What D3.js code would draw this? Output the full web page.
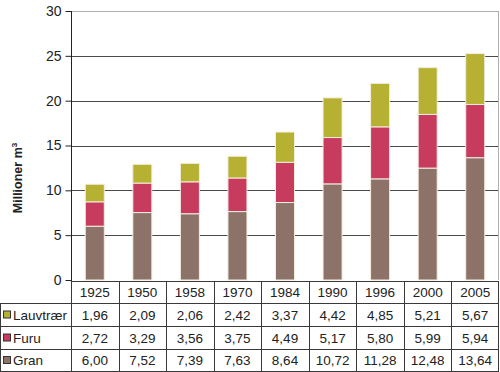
<!DOCTYPE html>
<html>
<head>
<meta charset="utf-8">
<script src="https://cdn.jsdelivr.net/npm/d3@7"></script>
<style>
  body { margin: 0; background: #fff; }
  text { font-family: "Liberation Sans", Arial, sans-serif; }
</style>
</head>
<body>
<div id="chart"></div>
<script>
// data
var years = ["1925", "1950", "1958", "1970", "1984", "1990", "1996", "2000", "2005"];
var gran = [6.00, 7.52, 7.39, 7.63, 8.64, 10.72, 11.28, 12.48, 13.64];
var furu = [2.72, 3.29, 3.56, 3.75, 4.49, 5.17, 5.80, 5.99, 5.94];
var lauvtraer = [1.96, 2.09, 2.06, 2.42, 3.37, 4.42, 4.85, 5.21, 5.67];
var seriesNames = ["Gran", "Furu", "Lauvtrær"];
var yTicks = [0, 5, 10, 15, 20, 25, 30];

var colors = {"Gran": "#8c7268", "Furu": "#c73b5e", "Lauvtrær": "#b6b033"};

var width = 500, height = 372;
var plotLeft = 71, plotRight = 499, plotTop = 11, plotBase = 280;

var svg = d3.select("#chart").append("svg")
  .attr("width", width).attr("height", height);

var x = d3.scaleBand()
  .domain(years)
  .range([plotLeft, plotRight])
  .paddingInner(0.6)
  .paddingOuter(0.3);

var y = d3.scaleLinear()
  .domain([0, 30])
  .range([plotBase, plotTop]);

// gridlines
svg.selectAll(".grid")
  .data(yTicks.filter(function(d) { return d > 0; }))
  .enter().append("line")
    .attr("x1", plotLeft).attr("x2", plotRight)
    .attr("y1", function(d) { return Math.round(y(d)) + 0.5; })
    .attr("y2", function(d) { return Math.round(y(d)) + 0.5; })
    .style("stroke", function(d) { return d == 30 ? "#b0b0b0" : "#4a4a4a"; })
    .style("stroke-width", 1);

// right border
svg.append("line")
  .attr("x1", plotRight - 0.5).attr("x2", plotRight - 0.5)
  .attr("y1", plotTop).attr("y2", plotBase)
  .style("stroke", "#b0b0b0");

// stacked bars
var rows = years.map(function(yr, i) {
  return {year: yr, "Gran": gran[i], "Furu": furu[i], "Lauvtrær": lauvtraer[i]};
});
var stack = d3.stack().keys(seriesNames)(rows);

svg.selectAll(".layer")
  .data(stack)
  .enter().append("g")
    .style("fill", function(d) { return colors[d.key]; })
  .selectAll("rect")
  .data(function(d) { return d; })
  .enter().append("rect")
    .attr("x", function(d) { return x(d.data.year); })
    .attr("width", x.bandwidth())
    .attr("y", function(d) { return y(d[1]); })
    .attr("height", function(d) { return y(d[0]) - y(d[1]); })
    .style("stroke", "#f3eedd")
    .style("stroke-width", 1);

// y axis
var yAxis = svg.append("g")
  .attr("transform", "translate(" + (plotLeft + 0.5) + ",0)")
  .call(d3.axisLeft(y).tickValues(yTicks).tickSize(6).tickPadding(4));
yAxis.select(".domain").attr("d", "M0," + plotTop + "V" + (plotBase + 1)).style("stroke", "#222");
yAxis.selectAll(".tick line").style("stroke", "#222");
yAxis.selectAll("text")
  .style("font-size", "14px")
  .style("fill", "#222");

// y label
svg.append("text")
  .attr("transform", "translate(22,178) rotate(-90)")
  .style("text-anchor", "middle")
  .style("font-size", "12.5px")
  .style("font-weight", "bold")
  .style("fill", "#222")
  .text("Millioner  m")
  .append("tspan")
    .attr("dy", -5)
    .style("font-size", "8px")
    .text("3");

// data table
var rowTop = [281, 303, 326, 349];
var rowH = [22, 23, 23, 22];
var tableSeries = ["Lauvtrær", "Furu", "Gran"];
var tableValues = {"Lauvtrær": lauvtraer, "Furu": furu, "Gran": gran};
var step = x.step();
var fmt = function(v) { return d3.format(".2f")(v).replace(".", ","); };
var lineColor = "#3a3a3a";
var tbl = svg.append("g");

// horizontal table lines
tbl.append("line").attr("x1", plotLeft).attr("x2", plotRight)
  .attr("y1", rowTop[0] + 0.5).attr("y2", rowTop[0] + 0.5).style("stroke", lineColor);
rowTop.slice(1).concat([371]).forEach(function(t) {
  tbl.append("line").attr("x1", 0).attr("x2", plotRight)
    .attr("y1", t + 0.5).attr("y2", t + 0.5).style("stroke", lineColor);
});
// vertical table lines
years.forEach(function(yr, i) {
  tbl.append("line")
    .attr("x1", Math.round(plotLeft + i * step) + 0.5).attr("x2", Math.round(plotLeft + i * step) + 0.5)
    .attr("y1", rowTop[0]).attr("y2", 372)
    .style("stroke", lineColor);
});
tbl.append("line").attr("x1", plotRight - 0.5).attr("x2", plotRight - 0.5)
  .attr("y1", rowTop[0]).attr("y2", 372).style("stroke", lineColor);
tbl.append("line").attr("x1", 0.5).attr("x2", 0.5)
  .attr("y1", rowTop[1]).attr("y2", 372).style("stroke", lineColor);

// header
tbl.selectAll(".hdr")
  .data(years)
  .enter().append("text")
    .attr("x", function(d) { return x(d) + x.bandwidth() / 2; })
    .attr("y", rowTop[0] + rowH[0] / 2 + 5)
    .style("text-anchor", "middle")
    .style("font-size", "13.5px")
    .style("fill", "#222")
    .text(function(d) { return d; });

tableSeries.forEach(function(name, r) {
  var cy = rowTop[r + 1] + rowH[r + 1] / 2;
  tbl.append("rect")
    .attr("x", 3.5).attr("y", cy - 3.5)
    .attr("width", 7).attr("height", 7)
    .style("fill", colors[name])
    .style("stroke", "#333").style("stroke-width", 1);
  tbl.append("text")
    .attr("x", 13).attr("y", cy + 5)
    .style("font-size", "13.5px")
    .style("fill", "#222")
    .text(name);
  tbl.selectAll(".v" + r)
    .data(tableValues[name])
    .enter().append("text")
      .attr("x", function(d, i) { return x(years[i]) + x.bandwidth() / 2; })
      .attr("y", cy + 5)
      .style("text-anchor", "middle")
      .style("font-size", "13.5px")
      .style("fill", "#222")
      .text(function(d) { return fmt(d); });
});
</script>
</body>
</html>
